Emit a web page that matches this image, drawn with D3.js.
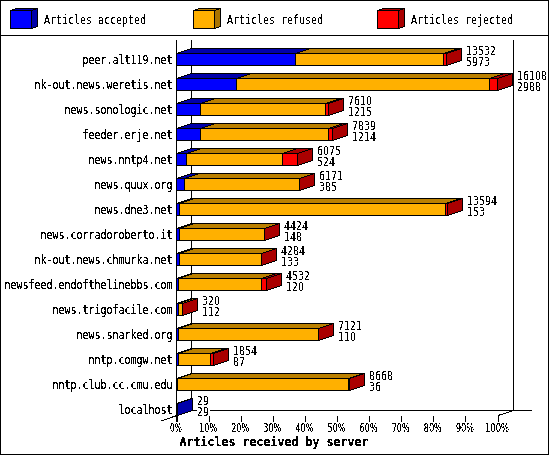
<!DOCTYPE html>
<html>
<head>
<meta charset="utf-8">
<script src="https://d3js.org/d3.v7.min.js"></script>
<style>
  html, body { margin: 0; padding: 0; background: #fff; }
  svg { display: block; }
  text { font-family: "DejaVu Sans Mono", monospace; font-size: 12px; fill: #000; }
  text.num { font-family: "DejaVu Sans", sans-serif; }
  .bold { font-weight: bold; font-size: 11.65px; }
</style>
</head>
<body>
<div id="chart"></div>
<script>
var servers = ["peer.alt119.net", "nk-out.news.weretis.net", "news.sonologic.net", "feeder.erje.net",
  "news.nntp4.net", "news.quux.org", "news.dne3.net", "news.corradoroberto.it", "nk-out.news.chmurka.net",
  "newsfeed.endofthelinebbs.com", "news.trigofacile.com", "news.snarked.org", "nntp.comgw.net",
  "nntp.club.cc.cmu.edu", "localhost"];
var totals = [13532, 16108, 7610, 7839, 6075, 6171, 13594, 4424, 4284, 4532, 320, 7121, 1854, 8668, 29];
var accepted = [5973, 2988, 1215, 1214, 524, 385, 153, 148, 133, 120, 112, 110, 87, 36, 29];
var refused = [7409, 12740, 6245, 6425, 4801, 5766, 13351, 4246, 4141, 4162, 178, 7001, 1617, 8612, 0];
var rejected = [150, 380, 150, 200, 750, 20, 90, 30, 10, 250, 30, 10, 150, 20, 0];
var seriesNames = ["Articles accepted", "Articles refused", "Articles rejected"];
var percentTicks = [0, 10, 20, 30, 40, 50, 60, 70, 80, 90, 100];

var config = {
  width: 550, height: 455,
  left: 177, right: 498,
  top: 53, bottom: 415,
  barH: 12,
  dx: 15, dy: 5,
  charW: 6
};
var colors = [
  {front: "#0000ff", top: "#0000aa", side: "#0000aa"},
  {front: "#ffb000", top: "#bb8000", side: "#aa7400"},
  {front: "#ff0000", top: "#aa0000", side: "#aa0000"}
];

var x = d3.scaleLinear().domain([0, d3.max(totals)]).range([config.left, config.right]);
var pct = d3.scaleLinear().domain([0, 100]).range([config.left, config.right]);
var y = d3.scalePoint().domain(servers).range([config.top, config.bottom - config.barH]);

var svg = d3.select("#chart").append("svg")
  .attr("width", config.width)
  .attr("height", config.height);

// threshold the text alpha so the glyphs come out hard edged
svg.append("defs").append("filter")
  .attr("id", "hard")
  .attr("filterUnits", "userSpaceOnUse")
  .attr("x", 0).attr("y", 0).attr("width", config.width).attr("height", config.height)
  .attr("color-interpolation-filters", "sRGB")
  .append("feComponentTransfer")
  .append("feFuncA").attr("type", "discrete").attr("tableValues", "0 0 1 1 1");

var lines = svg.append("g").attr("shape-rendering", "crispEdges");
var bars = svg.append("g").attr("shape-rendering", "crispEdges");
var labels = svg.append("g");
var texts = svg.append("g").attr("filter", "url(#hard)");

function line(g, x1, y1, x2, y2) {
  g.append("line")
    .attr("x1", x1).attr("y1", y1).attr("x2", x2).attr("y2", y2)
    .attr("stroke", "#000").attr("stroke-width", 1);
}

function poly(g, pts, fill) {
  g.append("polygon")
    .attr("points", pts.map(function (p) { return p.join(","); }).join(" "))
    .attr("fill", fill)
    .attr("stroke", "#000").attr("stroke-width", 1);
}

// the tall narrow labels: squeeze a 12px face to 6px per character
function label(str, tx, ty, cls) {
  texts.append("text")
    .attr("class", cls || null)
    .attr("x", tx).attr("y", ty)
    .attr("textLength", str.length * config.charW)
    .attr("lengthAdjust", "spacingAndGlyphs")
    .text(str);
}

// one 3D block: top face, front face, end face
function block(g, x0, x1, y0, h, dx, dy, c) {
  poly(g, [[x0, y0], [x0 + dx, y0 - dy], [x1 + dx, y0 - dy], [x1, y0]], c.top);
  poly(g, [[x1, y0], [x1 + dx, y0 - dy], [x1 + dx, y0 + h - dy], [x1, y0 + h]], c.side);
  poly(g, [[x0, y0], [x1, y0], [x1, y0 + h], [x0, y0 + h]], c.front);
}

// frame and legend
svg.append("rect")
  .attr("x", 0.5).attr("y", 0.5).attr("width", 548).attr("height", 453.5)
  .attr("fill", "none").attr("stroke", "#000").attr("shape-rendering", "crispEdges");
line(lines, 0, 35.5, 549, 35.5);

var legendX = [10.5, 193.5, 377.5];
seriesNames.forEach(function (name, i) {
  block(bars, legendX[i], legendX[i] + 21, 10.5, 18, 6, 2, colors[i]);
  label(name, legendX[i] + 33.5, 24);
});

// walls and floor
line(lines, config.left - 0.5, 40, config.left - 0.5, 422);
line(lines, config.left + config.dx - 0.5, 40, config.left + config.dx - 0.5, 411);
line(lines, config.right + config.dx + 0.5, 40, config.right + config.dx + 0.5, 411);
line(lines, config.left + config.dx - 0.5, 410.5, 532, 410.5);
line(lines, 161, 421, config.left + config.dx - 0.5, 410.5);
line(lines, config.right, 415.5, config.right + config.dx + 0.5, 410.5);

// x axis
var axis = d3.axisBottom(pct)
  .tickValues(percentTicks)
  .tickSize(6)
  .tickPadding(4)
  .tickFormat(function (d) { return d + "%"; });
var axisG = svg.append("g")
  .attr("transform", "translate(-0.5,415.5)")
  .attr("shape-rendering", "crispEdges")
  .call(axis);
axisG.select(".domain").remove();
axisG.selectAll("line").attr("stroke", "#000");
axisG.selectAll("text").remove();
percentTicks.forEach(function (d) {
  var s = d + "%";
  label(s, pct(d) - 1 - s.length * config.charW / 2, 432, "num");
});

// bars
servers.forEach(function (name, i) {
  var y0 = Math.round(y(name)) + 0.5;
  var run = 0;
  [accepted[i], refused[i], rejected[i]].forEach(function (v, s) {
    if (v <= 0) return;
    var x0 = Math.round(x(run)) - 0.5;
    var x1 = Math.round(x(run + v)) - 0.5;
    block(bars, x0, x1, y0, config.barH, config.dx, config.dy, colors[s]);
    run += v;
  });

  label(name, 172.5 - name.length * config.charW, y0 + 10);

  var lx = Math.round(x(totals[i])) + config.dx + 4;
  [totals[i], accepted[i]].forEach(function (v, k) {
    var s = String(v);
    labels.append("rect")
      .attr("x", lx).attr("y", y0 - 8 + k * 11)
      .attr("width", s.length * config.charW + 1).attr("height", 11)
      .attr("fill", "#fff");
    label(s, lx, y0 + 1 + k * 11, "num");
  });
});

texts.append("text")
  .attr("class", "bold")
  .attr("x", 274).attr("y", 446)
  .attr("text-anchor", "middle")
  .text("Articles received by server");
</script>
</body>
</html>
